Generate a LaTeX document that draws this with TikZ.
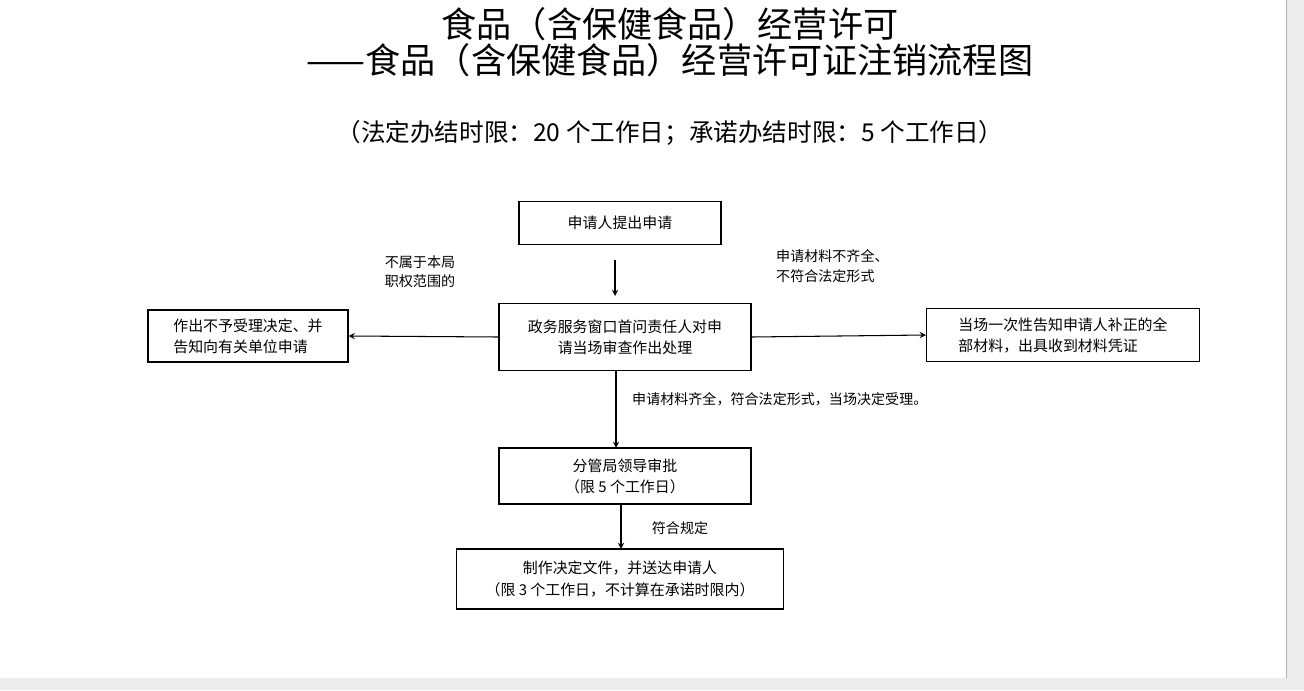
\documentclass[tikz,border=0pt]{standalone}
\usepackage{fontspec}
\newfontfamily\cjk{Noto Sans CJK SC}
\usetikzlibrary{positioning}
\tikzset{
  box/.style={draw, semithick, align=center, font=\cjk\fontsize{8.5}{12}\selectfont, inner sep=0pt},
  lbl/.style={align=left, font=\cjk\fontsize{8}{11}\selectfont},
  arr/.style={->, >=stealth, semithick}
}
\begin{document}
\begin{tikzpicture}[x=0.02cm, y=-0.02cm]
  \useasboundingbox[fill=white] (0,0) rectangle (1304,690);
  % window edges
  \fill[gray!15] (1286,0) rectangle (1304,678);
  \fill[gray!15] (0,678) rectangle (1304,690);
  \draw[gray!60] (1286,0) -- (1286,678);

  % titles
  \node[font=\cjk\fontsize{20}{22}\selectfont] (t1) at (670,24) {食品（含保健食品）经营许可};
  \node[font=\cjk\fontsize{20}{22}\selectfont] (t2) at (670,60) {——食品（含保健食品）经营许可证注销流程图};
  \node[font=\cjk\fontsize{14}{16}\selectfont] (t3) at (670,133) {（法定办结时限：20 个工作日；承诺办结时限：5 个工作日）};

  % boxes
  \node[box, minimum width=202*0.02cm, minimum height=43*0.02cm] (apply) at (620,223) {申请人提出申请};
  \node[box, minimum width=252*0.02cm, minimum height=67*0.02cm] (window) at (625,337) {政务服务窗口首问责任人对申\\请当场审查作出处理};
  \node[box, align=left, minimum width=200*0.02cm, minimum height=52*0.02cm] (reject) at (248,336) {作出不予受理决定、并\\告知向有关单位申请};
  \node[box, align=left, minimum width=273*0.02cm, minimum height=53*0.02cm] (notify) at (1063,335) {当场一次性告知申请人补正的全\\部材料，出具收到材料凭证};
  \node[box, minimum width=252*0.02cm, minimum height=56*0.02cm] (approve) at (625,476) {分管局领导审批\\（限 5 个工作日）};
  \node[box, minimum width=327*0.02cm, minimum height=60*0.02cm] (issue) at (620,579) {制作决定文件，并送达申请人\\（限 3 个工作日，不计算在承诺时限内）};

  % connectors
  \coordinate (a1) at (615,260);
  \coordinate (a2) at (615,296);
  \draw[arr] (a1) -- (a2);
  \draw[arr] (window.west) -- (reject.east);
  \draw[arr] (window.east) -- (notify.west);
  \draw[arr] (616,371) -- (616,448);
  \draw[arr] (621,504) -- (621,549);

  % labels
  \node[lbl] (l1) at (420,272) {不属于本局\\职权范围的};
  \node[lbl, anchor=west] (l2) at (770,266) {申请材料不齐全、\\不符合法定形式};
  \node[lbl, anchor=west] (l3) at (626,399) {申请材料齐全，符合法定形式，当场决定受理。};
  \node[lbl] (l4) at (680,528) {符合规定};
\end{tikzpicture}
\end{document}
